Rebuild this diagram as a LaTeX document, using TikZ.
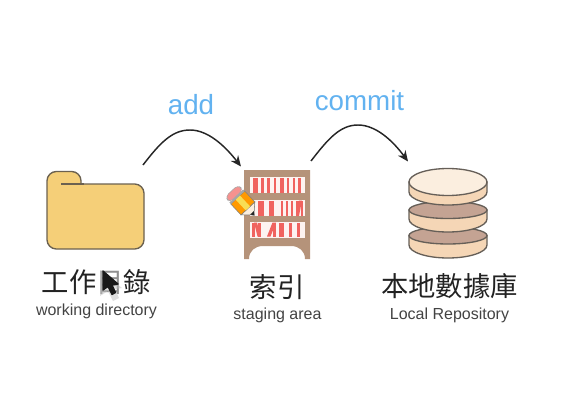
\documentclass[tikz,border=0pt]{standalone}
\usepackage{fontspec}
\setmainfont{Liberation Sans}
\newfontfamily\cjkfont{Noto Sans CJK TC}
\usetikzlibrary{arrows.meta}
\definecolor{folderfill}{HTML}{F5CF78}
\definecolor{folderline}{HTML}{6B6150}
\definecolor{shelf}{HTML}{B5937A}
\definecolor{bookred}{HTML}{F0635F}
\definecolor{bookbg}{HTML}{FDF3F1}
\definecolor{dbtop}{HTML}{FBEEDF}
\definecolor{dbside}{HTML}{F5D6B6}
\definecolor{dbdark}{HTML}{C4A393}
\definecolor{dbline}{HTML}{665F58}
\definecolor{labelblue}{HTML}{62B2F0}
\definecolor{captext}{HTML}{222222}
\tikzset{
  x=0.75pt,y=-0.75pt,
  cjklabel/.style={font=\cjkfont\fontsize{20.5}{24}\selectfont,text=captext,inner sep=0pt},
  sublabel/.style={font=\fontsize{12}{14}\selectfont,text=captext!85,inner sep=0pt},
  oplabel/.style={font=\fontsize{20.8}{24}\selectfont,text=labelblue,inner sep=0pt},
  flow/.style={line width=1.1pt,draw=black!85,-{Stealth[length=8pt,width=7pt]}},
  disk/.style={draw=dbline,line width=1pt},
}
\begin{document}
\begin{tikzpicture}
\useasboundingbox (0,0) rectangle (587,407);
% folder
\draw[fill=folderfill,draw=folderline,line width=1pt,rounded corners=7pt]
  (47,249) -- (47,171.5) -- (81,171.5) [sharp corners] -- (81,184) [rounded corners=7pt] -- (144,184) -- (144,249) -- cycle;
\draw[folderline,line width=1pt] (61,184) -- (84,184);
% shelf
\fill[shelf] (244,170) -- (310,170) -- (310,259) -- (305,259)
  .. controls (305,251) and (299,246) .. (291,246) -- (263,246)
  .. controls (255,246) and (249,251) .. (249,259) -- (244,259) -- cycle;
\foreach \ya/\yb in {177/193,199.5/216,221.5/238}{\fill[bookbg] (250,\ya) rectangle (304.5,\yb);}
\foreach \xa/\xb in {252.5/258,261/264,267/270,274/276,280/284,287/289,293/295,298/301}
  {\fill[bookred] (\xa,178) rectangle (\xb,193);}
\foreach \xa/\xb in {258/264,269/274,281/283,286/288,291/293}
  {\fill[bookred] (\xa,200.5) rectangle (\xb,216);}
\fill[bookred] (296,216) -- (296,200.5) -- (298.5,200.5) -- (298.5,216) -- cycle;
\fill[bookred] (296,216) -- (299,216) -- (302,200.5) -- (299,200.5) -- cycle;
\fill[bookred] (300.5,216) -- (303,216) -- (303,200.5) -- (300.5,200.5) -- cycle;
\foreach \xa/\xb in {252/254.5,258/260.5,279/284,289/292,297/300}
  {\fill[bookred] (\xa,222.5) rectangle (\xb,236.5);}
\fill[bookred] (254,222.5) -- (257,222.5) -- (260.5,236.5) -- (257.5,236.5) -- cycle;
\fill[bookred] (267,236.5) -- (270.5,236.5) -- (276,222.5) -- (272.5,222.5) -- cycle;
\fill[bookred] (272.5,222.5) rectangle (275.5,236.5);
% pencil
\fill[dbtop,draw=black!55,line width=.4pt] (254.8,201.9) -- (241,214.9) -- (254,215) -- cycle;
\fill[black!85] (253.8,211.1) -- (250.2,214.5) -- (254.5,215.5) -- cycle;
\fill[orange!80!yellow,draw=black!50,line width=.4pt] (254.8,201.9) -- (244.6,191) -- (230.8,204) -- (241,214.9) -- cycle;
\fill[folderfill!70!yellow] (250.1,206.4) -- (239.9,195.5) -- (235.5,199.5) -- (245.7,210.4) -- cycle;
\fill[black!35] (244.6,191) -- (243.2,189.5) -- (229.4,202.5) -- (230.8,204) -- cycle;
\fill[bookred!70,draw=black!35,line width=.4pt,rounded corners=3pt] (243.2,189.5) -- (237.8,185.1) -- (225.4,196.7) -- (229.4,202.5) -- cycle;
% database
\draw[disk,fill=dbside] (409,235.5) -- (409,245) arc[start angle=180,end angle=0,x radius=39,y radius=13] -- (487,235.5) -- cycle;
\draw[disk,fill=dbdark] (448,235.5) ellipse[x radius=39,y radius=8.5];
\draw[disk,fill=dbside] (409,210) -- (409,219) arc[start angle=180,end angle=0,x radius=39,y radius=13] -- (487,210) -- cycle;
\draw[disk,fill=dbdark] (448,210) ellipse[x radius=39,y radius=8.5];
\draw[disk,fill=dbside] (409,182) -- (409,192) arc[start angle=180,end angle=0,x radius=39,y radius=13] -- (487,182) -- cycle;
\draw[disk,fill=dbtop] (448,182) ellipse[x radius=39,y radius=13.5];
% captions
\node[cjklabel] (wd) at (96.5,282) {工作目錄};
\node[sublabel] (wdsub) at (96.5,311) {working directory};
\node[cjklabel] (sa) at (277,287) {索引};
\node[sublabel] (sasub) at (277.5,315) {staging area};
\node[cjklabel] (lr) at (449.5,286) {本地數據庫};
\node[sublabel] (lrsub) at (449.5,315) {Local Repository};
% mouse cursor
\fill[white,opacity=.5] (99,266) rectangle (120,300);
\fill[black!25,opacity=.5] (100,270) -- (100,296) -- (108,291) -- (113,301) -- (119,298) -- (115,289) -- (122,288) -- cycle;
\fill[black!90,draw=black!90,line width=1pt,line join=round] (103,271) -- (103,290) -- (108,286.5) -- (112,294.5) -- (115.5,292.5) -- (112,285) -- (118,284) -- cycle;
% labels and connectors
\node[oplabel] (add) at (191,105) {add};
\node[oplabel] (commit) at (359.5,101) {commit};
\coordinate (a1) at (143,165);
\coordinate (a2) at (241,166.5);
\coordinate (c1) at (311,161);
\coordinate (c2) at (408,161.5);
\draw[flow] (a1) .. controls (160,143) and (172,130) .. (190,130) .. controls (208,130) and (225,146) .. (a2);
\draw[flow] (c1) .. controls (328,139) and (340,125) .. (358,125) .. controls (376,125) and (393,141) .. (c2);
\end{tikzpicture}
\end{document}
